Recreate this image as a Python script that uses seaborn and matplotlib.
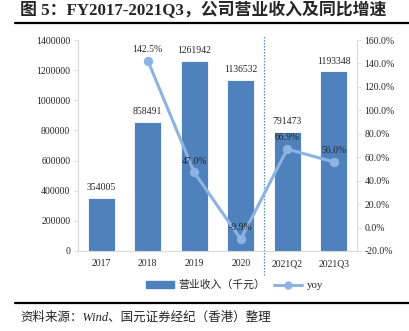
import numpy as np
import pandas as pd
import matplotlib
matplotlib.use("Agg")
import matplotlib.pyplot as plt
from matplotlib.lines import Line2D
from matplotlib.patches import Patch
import seaborn as sns

categories = ["2017", "2018", "2019", "2020", "2021Q2", "2021Q3"]
revenue = [354005, 858491, 1261942, 1136532, 791473, 1193348]
yoy = [np.nan, 142.5, 47.0, -9.9, 66.9, 56.0]

left_ticks = [0, 200000, 400000, 600000, 800000, 1000000, 1200000, 1400000]
right_ticks = [-20, 0, 20, 40, 60, 80, 100, 120, 140, 160]

title_text = "图 5：FY2017-2021Q3，公司营业收入及同比增速"
source_text = "资料来源：Wind、国元证券经纪（香港）整理"
bar_name = "营业收入（千元）"
line_name = "yoy"

sns.set_theme(style="white")
serif = ["Liberation Serif", "Noto Sans CJK SC", "DejaVu Sans"]
plt.rcParams["font.family"] = serif

bar_color = "#4F81BD"
line_color = "#8DB3E2"
axis_gray = "#D9D9D9"

df = pd.DataFrame({"cat": categories, "revenue": revenue, "yoy": yoy})

fig = plt.figure(figsize=(4.09, 3.31), dpi=100)
ax = fig.add_axes([78 / 409, 1 - 251 / 331, (357 - 78) / 409, (251 - 40) / 331])

sns.barplot(data=df, x="cat", y="revenue", color=bar_color, width=0.58,
            saturation=1, ax=ax, edgecolor="white", linewidth=0.6)
ax.set_ylim(0, 1400000)
ax.set_yticks(left_ticks)
ax.set_yticklabels([str(v) for v in left_ticks], fontsize=7)
ax.set_xlabel("")
ax.set_ylabel("")
ax.tick_params(axis="x", labelsize=7, length=0, pad=6)
ax.tick_params(axis="y", length=3, width=0.6, color=axis_gray, pad=2.5, left=True)
for s in ["top", "right"]:
    ax.spines[s].set_visible(False)
for s in ["left", "bottom"]:
    ax.spines[s].set_color(axis_gray)
    ax.spines[s].set_linewidth(0.8)

for i, v in enumerate(revenue):
    ax.annotate(str(v), (i, v), xytext=(0, 4), textcoords="offset points",
                ha="center", va="bottom", fontsize=7)

ax2 = ax.twinx()
x_pos = np.arange(len(categories))
sns.lineplot(x=x_pos, y=df["yoy"], ax=ax2, color=line_color, linewidth=2.2,
             marker="o", markersize=6, markeredgecolor=line_color, legend=False)
ax2.set_ylim(-20, 160)
ax2.set_yticks(right_ticks)
ax2.set_yticklabels([f"{v:.1f}%" for v in right_ticks], fontsize=7)
ax2.set_ylabel("")
ax2.tick_params(axis="y", length=3, width=0.6, color=axis_gray, pad=2.5, right=True)
for s in ["top", "left", "bottom"]:
    ax2.spines[s].set_visible(False)
ax2.spines["right"].set_color(axis_gray)
ax2.spines["right"].set_linewidth(0.8)

for i, v in enumerate(yoy):
    if not np.isnan(v):
        ax2.annotate(f"{v:.1f}%", (i, v), xytext=(0, 5), textcoords="offset points",
                     ha="center", va="bottom", fontsize=7)

ax.set_xlim(-0.5, len(categories) - 0.5)
ax2.set_xlim(-0.5, len(categories) - 0.5)

# divider between annual and quarterly figures
ax.axvline(3.5, ymin=-0.114, ymax=1.024, color="#5B8BC9", linestyle=(0, (1.2, 1.2)),
           linewidth=0.9, clip_on=False)

handles = [Patch(facecolor=bar_color, edgecolor=bar_color),
           Line2D([], [], color=line_color, linewidth=2.2, marker="o", markersize=5)]
fig.legend(handles, [bar_name, line_name], loc="center",
           bbox_to_anchor=(234.5 / 409, 1 - 285 / 331),
           ncol=2, frameon=False, fontsize=7.8, handlelength=2.6, handleheight=0.6,
           columnspacing=0.8, handletextpad=0.4)

fig.text(20 / 409, 1 - 11 / 331, title_text, fontsize=12.2, fontweight="bold",
         family=["Liberation Serif", "Noto Sans CJK SC"], va="center", ha="left")
fig.add_artist(Line2D([15 / 409, 1.0], [1 - 22.5 / 331] * 2, color="black", linewidth=1.6))
fig.add_artist(Line2D([15 / 409, 1.0], [1 - 302.5 / 331] * 2, color="black", linewidth=1.6))
fig.text(20 / 409, 1 - 318 / 331, source_text, fontsize=9, style="italic",
         family=["Liberation Serif", "Noto Sans CJK SC"], va="center", ha="left")

fig.savefig("out.png", dpi=100)
